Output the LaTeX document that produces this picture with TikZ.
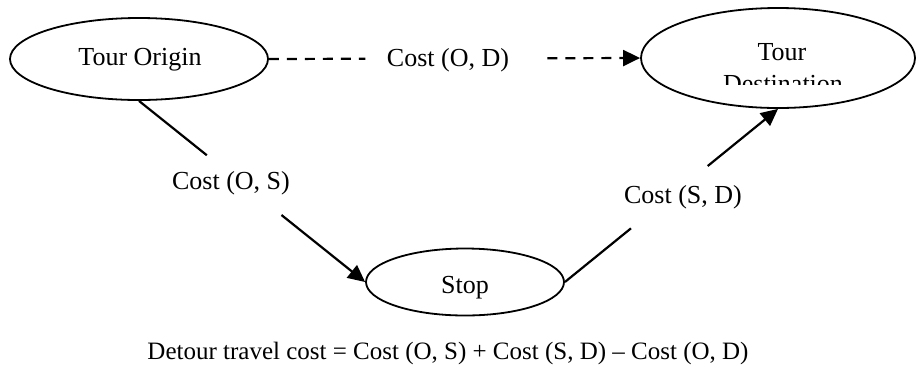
\documentclass[tikz,border=0pt]{standalone}
\usepackage{fontspec}
\setmainfont{Liberation Serif}
\usetikzlibrary{shapes.geometric,arrows.meta,calc}
\begin{document}
\begin{tikzpicture}[x=1pt,y=-1pt,
  place/.style={draw,ellipse,line width=1.8pt,inner sep=0pt},
  lbl/.style={inner sep=0pt,anchor=base,font=\fontsize{26}{30}\selectfont},
  conn/.style={line width=2.2pt},
  tip/.style={-{Triangle[length=17pt,width=16pt]}},
  dashline/.style={conn,dash pattern=on 10pt off 8pt}]
\useasboundingbox (0,0) rectangle (917,368);
% places
\node[place,minimum width=258pt,minimum height=82pt] (O) at (139,59) {};
\node[lbl] (Ot) at (140,65) {Tour Origin};
\node[place,minimum width=274pt,minimum height=100pt] (D) at (778,58) {};
\begin{scope}
  \clip (630,0) rectangle (917,84);
  \node[lbl] (Dt1) at (782,60) {Tour};
  \node[lbl] (Dt2) at (783,92) {Destination};
\end{scope}
\node[place,minimum width=198pt,minimum height=67pt] (S) at (465,282) {};
\node[lbl] (St) at (465,293) {Stop};
% labels
\node[lbl] (lOD) at (448,66) {Cost (O, D)};
\node[lbl] (lOS) at (231,189) {Cost (O, S)};
\node[lbl] (lSD) at (683,203) {Cost (S, D)};
\node[lbl,font=\fontsize{25}{30}\selectfont] (eq) at (448,359) {Detour travel cost = Cost (O, S) + Cost (S, D) – Cost (O, D)};
% connectors
\draw[dashline] (O.east) -- ($(O.east)!0.26!(D.west)$);
\draw[dashline,tip] ($(O.east)!0.75!(D.west)$) -- (D.west);
\draw[conn] (O.south) -- ($(O.south)!0.30!(S.west)$);
\draw[conn,tip] ($(O.south)!0.63!(S.west)$) -- (S.west);
\draw[conn] (S.east) -- ($(S.east)!0.31!(D.south)$);
\draw[conn,tip] ($(S.east)!0.67!(D.south)$) -- (D.south);
\end{tikzpicture}
\end{document}
